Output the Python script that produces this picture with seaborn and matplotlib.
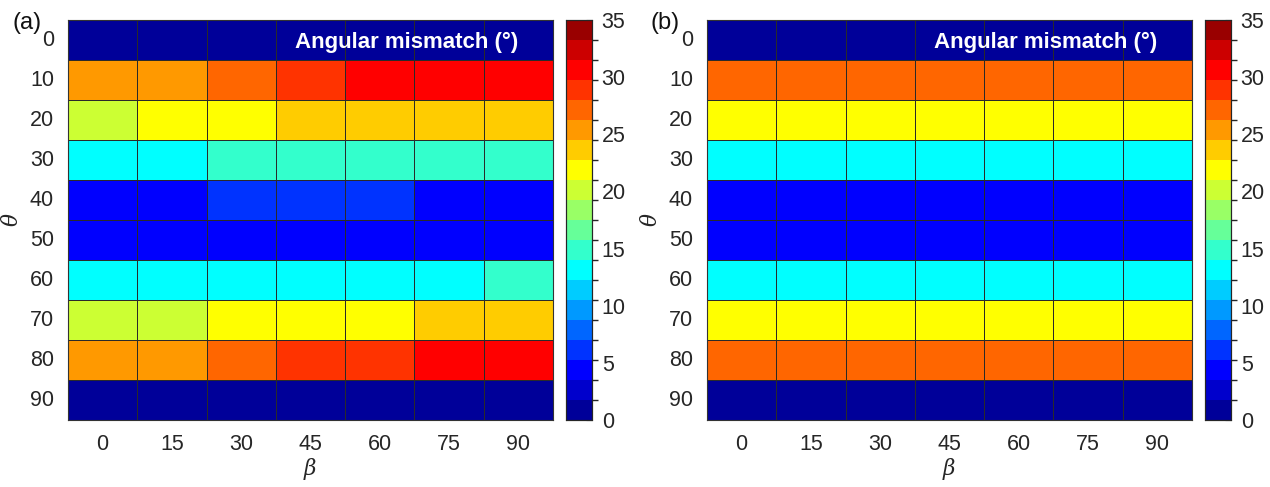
import numpy as np
import pandas as pd
import matplotlib
matplotlib.use("Agg")
import matplotlib.pyplot as plt
from matplotlib.colors import ListedColormap, BoundaryNorm
import seaborn as sns

sns.set_theme(style="white")
plt.rcParams['font.family'] = ['Liberation Sans', 'DejaVu Sans']
plt.rcParams['mathtext.fontset'] = 'dejavuserif'

beta = [0, 15, 30, 45, 60, 75, 90]
theta = [0, 10, 20, 30, 40, 50, 60, 70, 80, 90]

mismatch_a = [
    [0.5, 0.5, 0.5, 0.5, 0.5, 0.5, 0.5],
    [25.5, 25.5, 27.0, 29.0, 30.5, 30.5, 30.5],
    [20.0, 22.0, 22.0, 23.5, 23.5, 23.5, 23.5],
    [13.0, 13.0, 15.0, 15.0, 15.0, 15.0, 15.0],
    [4.5, 4.5, 6.0, 6.0, 6.0, 4.5, 4.5],
    [4.5, 4.5, 4.5, 4.5, 4.5, 4.5, 4.5],
    [13.0, 13.0, 13.0, 13.0, 13.0, 13.0, 15.0],
    [20.0, 20.0, 22.0, 22.0, 22.0, 23.5, 23.5],
    [25.5, 25.5, 27.0, 29.0, 29.0, 30.5, 30.5],
    [0.5, 0.5, 0.5, 0.5, 0.5, 0.5, 0.5],
]
mismatch_b_rows = [0.5, 27.0, 22.0, 13.0, 4.5, 4.5, 13.0, 22.0, 27.0, 0.5]

# MATLAB jet(20) discrete colormap
jet20 = [
    (0, 0, 0.6), (0, 0, 0.8), (0, 0, 1), (0, 0.2, 1), (0, 0.4, 1),
    (0, 0.6, 1), (0, 0.8, 1), (0, 1, 1), (0.2, 1, 0.8), (0.4, 1, 0.6),
    (0.6, 1, 0.4), (0.8, 1, 0.2), (1, 1, 0), (1, 0.8, 0), (1, 0.6, 0),
    (1, 0.4, 0), (1, 0.2, 0), (1, 0, 0), (0.8, 0, 0), (0.6, 0, 0),
]
cmap = ListedColormap(jet20)
bounds = np.linspace(0, 35, 21)
norm = BoundaryNorm(bounds, cmap.N)

df_a = pd.DataFrame(mismatch_a, index=theta, columns=beta)
df_b = pd.DataFrame([[v] * len(beta) for v in mismatch_b_rows], index=theta, columns=beta)

W, H = 1270, 487
fig = plt.figure(figsize=(12.7, 4.87), dpi=100)

def box(x0, y0, x1, y1):
    return [x0 / W, 1 - y1 / H, (x1 - x0) / W, (y1 - y0) / H]

panels = [
    (df_a, box(68, 20, 553, 420), box(566, 20, 592, 420), "(a)", 13),
    (df_b, box(707, 20, 1192, 420), box(1205, 20, 1231, 420), "(b)", 651),
]
tc = '#262626'
fs = 15.5
for df, axpos, cbpos, lab, labx in panels:
    ax = fig.add_axes(axpos)
    cax = fig.add_axes(cbpos)
    sns.heatmap(df, ax=ax, cbar_ax=cax, cmap=cmap, norm=norm,
                linewidths=0.6, linecolor='#2a2a2a',
                cbar_kws={'ticks': [0, 5, 10, 15, 20, 25, 30, 35]})
    ax.set_xlabel(r'$\beta$', fontsize=15.5, color=tc, labelpad=1)
    ax.set_ylabel(r'$\theta$', fontsize=15.5, color=tc, labelpad=5)
    ax.tick_params(axis='both', length=0, labelsize=fs, labelcolor=tc, pad=10)
    ax.set_yticklabels([str(t) for t in theta], rotation=0)
    ax.set_xticklabels([str(b) for b in beta], rotation=0)
    for s in ax.spines.values():
        s.set_visible(True)
        s.set_color('#333333')
        s.set_linewidth(0.8)
    ax.text(0.928, 0.945, 'Angular mismatch (°)', transform=ax.transAxes,
            ha='right', va='center', color='white', fontsize=16, fontweight='bold')
    cax.tick_params(axis='y', direction='in', length=4, width=0.8, color='#262626',
                    labelsize=fs, labelcolor=tc, pad=7)
    cax.yaxis.set_ticks_position('right')
    for s in cax.spines.values():
        s.set_visible(True)
        s.set_color('#262626')
        s.set_linewidth(0.8)
    cb = cax.collections[0].colorbar if cax.collections else None
    if cb is not None:
        cb.outline.set_visible(True)
        cb.outline.set_edgecolor('#262626')
        cb.outline.set_linewidth(0.8)
    fig.text(labx / W, 1 - 23 / H, lab, fontsize=17, color='#111111', ha='left', va='center')

fig.savefig('out.png', dpi=100)
